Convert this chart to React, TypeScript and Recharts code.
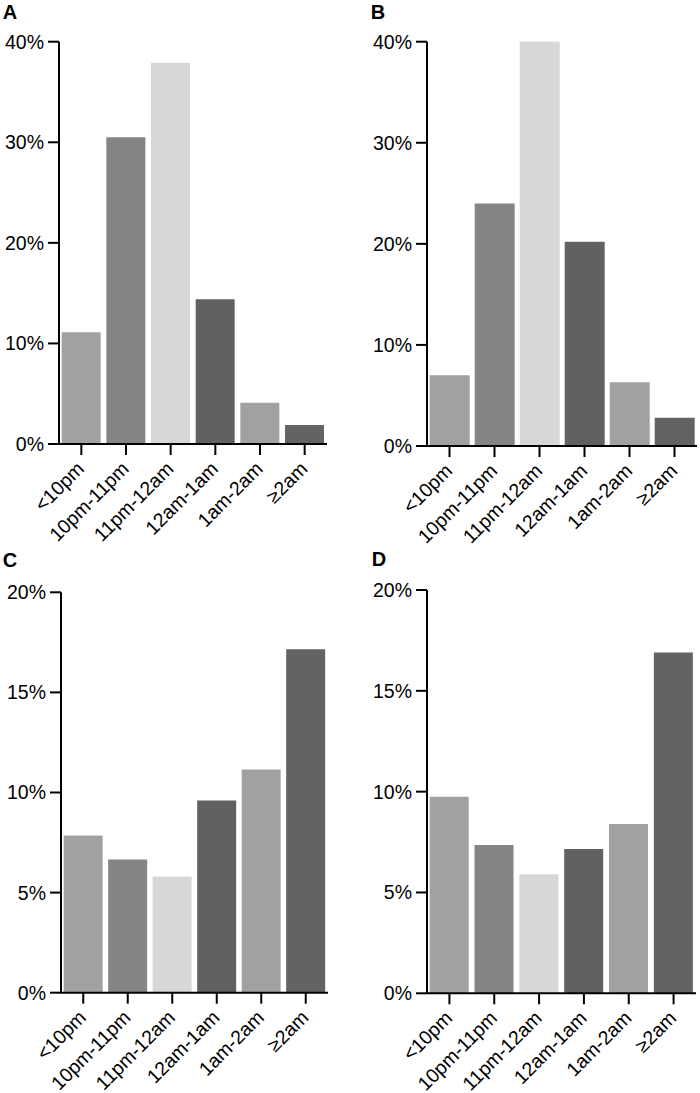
import { BarChart, Bar, XAxis, YAxis, Cell } from 'recharts';

const categories = ['<10pm', '10pm-11pm', '11pm-12am', '12am-1am', '1am-2am', '≥2am'];

// percentages
const panelA = [11.1, 30.5, 37.9, 14.4, 4.1, 1.9];
const panelB = [7.0, 24.0, 40.0, 20.2, 6.3, 2.8];
const panelC = [7.85, 6.65, 5.8, 9.6, 11.15, 17.15];
const panelD = [9.75, 7.35, 5.9, 7.15, 8.4, 16.9];

const ticksTop = [0, 10, 20, 30, 40];
const ticksBottom = [0, 5, 10, 15, 20];

const barColors = ['#a1a1a1', '#858585', '#d7d7d7', '#616161', '#a1a1a1', '#636363'];

const FONT = '"Liberation Sans", Arial, sans-serif';

const XTick = (props: any) => {
  const { x, y, payload } = props;
  const ax = x + 4;
  const ay = y + 13;
  return (
    <text
      x={ax}
      y={ay}
      transform={`rotate(-45 ${ax} ${ay})`}
      textAnchor="end"
      fontSize={19.5}
      fontFamily={FONT}
      fill="#000"
    >
      {payload.value}
    </text>
  );
};

interface PanelProps {
  values: number[];
  ticks: number[];
  left: number;
  top: number;
  width: number;
  plotBottom: number; // y of the 0% line, measured inside the panel box
  axisWidth: number;
  marginTop: number;
  marginRight: number;
}

const X_AXIS_H = 120;

function Panel({ values, ticks, left, top, width, plotBottom, axisWidth, marginTop, marginRight }: PanelProps) {
  const data = categories.map((c, i) => ({ name: c, value: values[i] }));
  const max = ticks[ticks.length - 1];

  return (
    <div style={{ position: 'absolute', left, top }}>
      <BarChart
        width={width}
        height={plotBottom + X_AXIS_H}
        data={data}
        margin={{ top: marginTop, right: marginRight, bottom: 0, left: 0 }}
        barCategoryGap="6%"
      >
        <XAxis
          dataKey="name"
          height={X_AXIS_H}
          interval={0}
          tickSize={11}
          tick={<XTick />}
          axisLine={{ stroke: '#000', strokeWidth: 2 }}
          tickLine={{ stroke: '#000', strokeWidth: 2 }}
        />
        <YAxis
          width={axisWidth}
          domain={[0, max]}
          ticks={ticks}
          tickSize={11}
          tickMargin={4}
          tickFormatter={(v) => `${v}%`}
          tick={{ fill: '#000', fontSize: 19.5, fontFamily: FONT }}
          axisLine={{ stroke: '#000', strokeWidth: 2 }}
          tickLine={{ stroke: '#000', strokeWidth: 2 }}
        />
        <Bar dataKey="value" isAnimationActive={false}>
          {data.map((d, i) => (
            <Cell key={d.name} fill={barColors[i]} />
          ))}
        </Bar>
      </BarChart>
    </div>
  );
}

export default function App() {
  return (
    <div style={{ position: 'absolute', left: 0, top: 0, width: 700, height: 1093, overflow: 'hidden', background: '#fff' }}>
      <Panel values={panelA} ticks={ticksTop} left={0} top={0} width={345} plotBottom={444}
        axisWidth={59} marginTop={41.7} marginRight={18} />
      <Panel values={panelB} ticks={ticksTop} left={350} top={0} width={350} plotBottom={446}
        axisWidth={77} marginTop={41.7} marginRight={3} />
      <Panel values={panelC} ticks={ticksBottom} left={0} top={545} width={345} plotBottom={447.7}
        axisWidth={61} marginTop={47.3} marginRight={17} />
      <Panel values={panelD} ticks={ticksBottom} left={350} top={545} width={350} plotBottom={448.3}
        axisWidth={77} marginTop={45} marginRight={4} />

      <svg width={700} height={1093} style={{ position: 'absolute', left: 0, top: 0, pointerEvents: 'none' }}>
        <g fontFamily={FONT} fontWeight="bold" fontSize={20} fill="#000">
          <text x={2.7} y={19.3}>A</text>
          <text x={370.7} y={19}>B</text>
          <text x={2.7} y={566.5}>C</text>
          <text x={371.7} y={566}>D</text>
        </g>
      </svg>
    </div>
  );
}
